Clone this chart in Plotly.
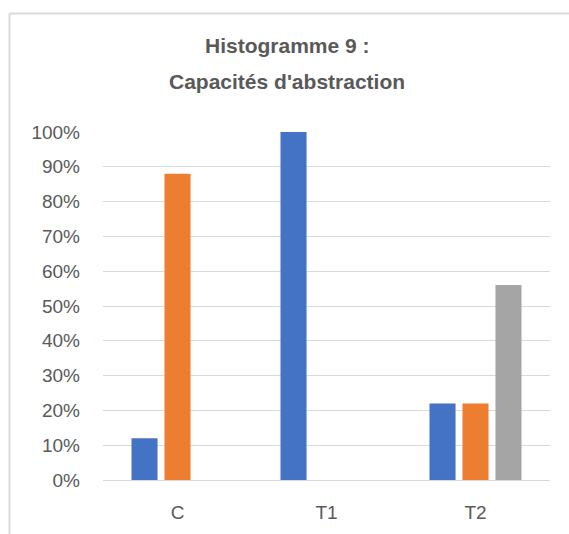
import plotly.graph_objects as go

# Categories and percentage values per series
categories = ["C", "T1", "T2"]
series_names = ["Série 1", "Série 2", "Série 3"]
series_values = [
    [12, 100, 22],
    [88, 0, 22],
    [0, 0, 56],
]
series_colors = ["#4472C4", "#ED7D31", "#A5A5A5"]
y_ticks = [0, 10, 20, 30, 40, 50, 60, 70, 80, 90, 100]
y_tick_labels = [f"{v}%" for v in y_ticks]
title_lines = ["Histogramme 9 :", "Capacités d'abstraction"]

W, H = 569, 534
ML, MR, MT, MB = 103, 19, 132, 54
PW, PH = W - ML - MR, H - MT - MB

fig = go.Figure()
for name, vals, col in zip(series_names, series_values, series_colors):
    fig.add_trace(go.Bar(
        x=categories, y=vals, name=name,
        marker=dict(color=col, line=dict(width=0)),
        hoverinfo="x+y",
    ))

text_col = "#595959"
font_family = "Liberation Sans, Arial, sans-serif"

# Two-line chart title, each line placed separately for wider line spacing
title_ann = []
for i, line in enumerate(title_lines):
    y_px = 45 + 37 * i
    title_ann.append(dict(
        text=f"<b>{line}</b>", showarrow=False,
        xref="paper", yref="paper",
        x=(287 - ML) / PW, y=1 + (MT - y_px) / PH,
        xanchor="center", yanchor="middle",
        font=dict(family=font_family, size=21, color=text_col),
    ))

# Chart-area frame: only the top and left edges fall inside the page
frame_x = (9.5 - ML) / PW
frame_y = 1 + (MT - 13.5) / PH
frame_style = dict(color="#D9D9D9", width=2)
frame = [
    dict(type="line", xref="paper", yref="paper",
         x0=frame_x, x1=(W - ML) / PW, y0=frame_y, y1=frame_y,
         line=frame_style, layer="below"),
    dict(type="line", xref="paper", yref="paper",
         x0=frame_x, x1=frame_x, y0=frame_y, y1=-MB / PH,
         line=frame_style, layer="below"),
]

fig.update_layout(
    width=W, height=H,
    margin=dict(l=ML, r=MR, t=MT, b=MB, autoexpand=False),
    paper_bgcolor="white", plot_bgcolor="white",
    barmode="group", bargap=0.336, bargroupgap=0.21,
    showlegend=False,
    annotations=title_ann,
    shapes=frame,
    xaxis=dict(
        showgrid=False, zeroline=False, showline=False, automargin=False,
        ticks="", tickfont=dict(family=font_family, size=19, color=text_col),
        ticklabelstandoff=19,
    ),
    yaxis=dict(
        range=[0, 100], tickvals=y_ticks, ticktext=y_tick_labels,
        showgrid=True, gridcolor="#D9D9D9", gridwidth=1,
        zeroline=True, zerolinecolor="#D9D9D9", zerolinewidth=1,
        showline=False, ticks="", automargin=False,
        tickfont=dict(family=font_family, size=19, color=text_col),
        ticklabelstandoff=22,
    ),
)

fig.write_html("out.html", config={"displayModeBar": False})
